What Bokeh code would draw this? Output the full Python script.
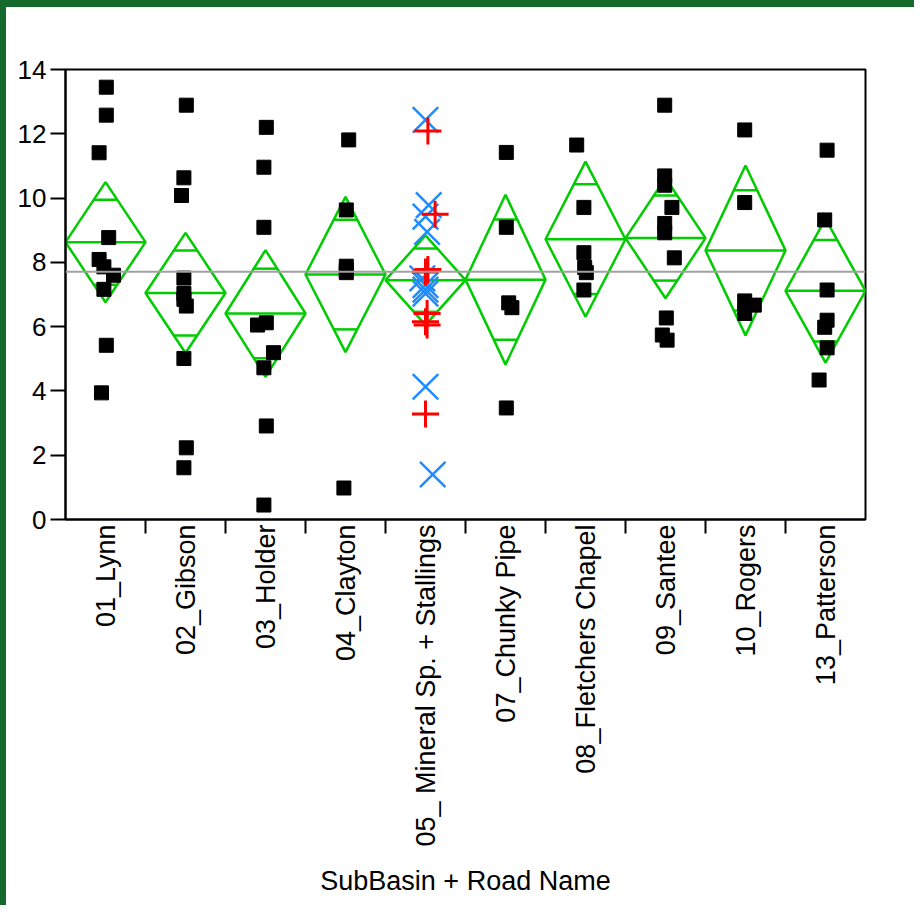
import numpy as np
from bokeh.plotting import figure
from bokeh.models import FixedTicker, Span, Range1d
from bokeh.embed import file_html
from bokeh.resources import INLINE

# Road categories along the x axis
categories = ["01_Lynn", "02_Gibson", "03_Holder", "04_Clayton",
              "05_ Mineral Sp. + Stallings", "07_Chunky Pipe",
              "08_Fletchers Chapel", "09_Santee", "10_Rogers", "13_Patterson"]

# Observed values per road
lynn = [13.45, 12.58, 11.41, 8.77, 8.09, 7.86, 7.60, 7.16, 5.42, 3.94]
gibson = [12.89, 10.63, 10.08, 7.51, 7.03, 6.85, 6.64, 5.01, 2.23, 1.61]
holder = [12.20, 10.96, 9.09, 6.12, 6.05, 5.19, 4.72, 2.91, 0.45]
clayton = [11.81, 9.63, 7.88, 7.75, 7.68, 0.98]
mineral_sp = [12.43, 9.78, 9.42, 8.95, 7.50, 7.29, 7.15, 7.03, 4.13, 1.40]
stallings = [12.09, 9.50, 7.78, 7.70, 6.41, 6.15, 6.05, 3.28]
chunky_pipe = [11.42, 9.09, 6.74, 6.59, 3.47]
fletchers_chapel = [11.65, 9.71, 8.30, 7.84, 7.68, 7.14]
santee = [12.89, 10.69, 10.40, 9.71, 9.21, 8.92, 8.14, 6.27, 5.74, 5.58]
rogers = [12.12, 9.86, 6.80, 6.67, 6.41]
patterson = [11.49, 9.32, 7.14, 6.20, 5.98, 5.34, 4.34]

# Horizontal jitter (fraction of a category width) for each point
lynn_jit = [0.01, 0.01, -0.08, 0.04, -0.08, -0.02, 0.10, -0.02, 0.01, -0.05]
gibson_jit = [0.01, -0.02, -0.05, -0.02, -0.02, -0.02, 0.01, -0.02, 0.01, -0.02]
holder_jit = [0.01, -0.02, -0.02, 0.01, -0.10, 0.10, -0.02, 0.01, -0.02]
clayton_jit = [0.04, 0.01, 0.01, 0.01, 0.01, -0.02]
mineral_sp_jit = [0.0, 0.04, 0.0, 0.02, -0.04, 0.0, 0.0, 0.0, 0.0, 0.09]
stallings_jit = [0.03, 0.12, 0.03, 0.0, 0.02, 0.0, 0.02, 0.0]
chunky_pipe_jit = [0.01, 0.01, 0.04, 0.08, 0.01]
fletchers_chapel_jit = [-0.11, -0.02, -0.02, -0.01, 0.01, -0.02]
santee_jit = [-0.01, -0.01, -0.01, 0.08, -0.01, -0.01, 0.11, 0.01, -0.04, 0.02]
rogers_jit = [-0.01, -0.01, -0.01, 0.11, -0.01]
patterson_jit = [0.02, -0.01, 0.02, 0.02, -0.01, 0.02, -0.08]

groups = [lynn, gibson, holder, clayton, mineral_sp + stallings, chunky_pipe,
          fletchers_chapel, santee, rogers, patterson]
square_groups = [(0, lynn, lynn_jit), (1, gibson, gibson_jit), (2, holder, holder_jit),
                 (3, clayton, clayton_jit), (5, chunky_pipe, chunky_pipe_jit),
                 (6, fletchers_chapel, fletchers_chapel_jit), (7, santee, santee_jit),
                 (8, rogers, rogers_jit), (9, patterson, patterson_jit)]

# One-way ANOVA style means diamonds (pooled standard deviation)
n = np.array([len(g) for g in groups])
means = np.array([np.mean(g) for g in groups])
ss_within = sum(((np.array(g) - np.mean(g)) ** 2).sum() for g in groups)
dof = n.sum() - len(groups)
s_pooled = np.sqrt(ss_within / dof)
t975 = 1.99
ci = t975 * s_pooled / np.sqrt(n)
grand_mean = np.mean(np.concatenate([np.array(g) for g in groups]))

GREEN = "#00CC00"
FONT = "Liberation Sans"

p = figure(width=914, height=905, x_range=Range1d(0, 10), y_range=Range1d(0, 14),
           output_backend="svg", toolbar_location=None,
           min_border_left=59, min_border_right=55, min_border_top=62,
           min_border_bottom=393)
p.styles = {"border-top": "7px solid #15692D", "border-left": "6px solid #15692D"}
p.background_fill_color = "white"
p.border_fill_color = "white"
p.outline_line_color = "black"
p.outline_line_width = 2
p.xgrid.visible = False
p.ygrid.visible = False

# Grand mean reference line
p.add_layout(Span(location=grand_mean, dimension="width", line_color="#A0A0A0",
                  line_width=2))

# Means diamonds, mean lines and overlap marks
dx_xs, dx_ys = [], []
seg_x0, seg_x1, seg_y = [], [], []
ov = 0.5 * (1 - 1 / np.sqrt(2))
for i, (m, c) in enumerate(zip(means, ci)):
    dx_xs.append([i, i + 0.5, i + 1, i + 0.5])
    dx_ys.append([m, m + c, m, m - c])
    seg_x0 += [i, i + 0.5 - ov, i + 0.5 - ov]
    seg_x1 += [i + 1, i + 0.5 + ov, i + 0.5 + ov]
    seg_y += [m, m + c / np.sqrt(2), m - c / np.sqrt(2)]
p.patches(dx_xs, dx_ys, fill_color=None, line_color=GREEN, line_width=2.5)
p.segment(x0=seg_x0, y0=seg_y, x1=seg_x1, y1=seg_y, line_color=GREEN, line_width=2.5)

# Black squares for single-road groups
sx, sy = [], []
for i, vals, jit in square_groups:
    sx += [i + 0.5 + j for j in jit]
    sy += vals
p.scatter(sx, sy, marker="square", size=14, fill_color="black", line_color="black")

# Combined group: two roads with different markers
p.scatter([4.5 + j for j in mineral_sp_jit], mineral_sp, marker="x", size=36,
          line_color="#1E8CFF", line_width=2.5)
p.scatter([4.5 + j for j in stallings_jit], stallings, marker="cross", size=27,
          line_color="#FF0000", line_width=3)

# Axes
xa = p.xaxis[0]
xa.ticker = FixedTicker(ticks=[i + 0.5 for i in range(10)],
                        minor_ticks=list(range(1, 10)))
xa.major_label_overrides = {i + 0.5: c for i, c in enumerate(categories)}
xa.major_label_orientation = np.pi / 2
xa.major_tick_line_color = None
xa.major_tick_out = 0
xa.major_tick_in = 0
xa.minor_tick_out = 14
xa.minor_tick_in = 0
xa.minor_tick_line_color = "black"
xa.minor_tick_line_width = 2
xa.major_label_standoff = -9
xa.major_label_text_font = FONT
xa.major_label_text_font_size = "27px"
xa.major_label_text_color = "black"
xa.axis_line_width = 2
xa.axis_label = "SubBasin + Road Name"
xa.axis_label_text_font = FONT
xa.axis_label_text_font_size = "27px"
xa.axis_label_text_font_style = "normal"
xa.axis_label_text_color = "black"
xa.axis_label_standoff = 17

ya = p.yaxis[0]
ya.ticker = FixedTicker(ticks=list(range(0, 15, 2)), minor_ticks=[])
ya.major_tick_out = 15
ya.major_tick_in = 0
ya.major_tick_line_width = 2
ya.major_label_standoff = 4
ya.major_label_text_font = FONT
ya.major_label_text_font_size = "26px"
ya.major_label_text_color = "black"
ya.axis_line_width = 2

open("out.html", "w").write(file_html(p, INLINE))
